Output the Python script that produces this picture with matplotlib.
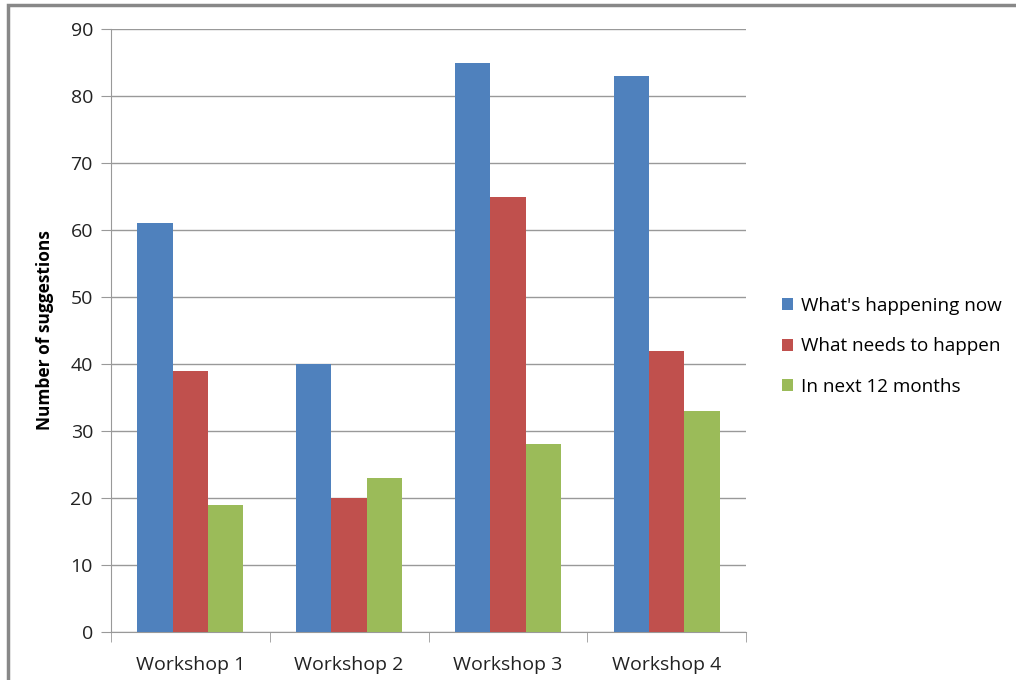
import numpy as np
import matplotlib
matplotlib.use('Agg')
import matplotlib.pyplot as plt
from matplotlib.patches import Rectangle

workshops = ['Workshop 1', 'Workshop 2', 'Workshop 3', 'Workshop 4']
series_names = ["What's happening now", 'What needs to happen', 'In next 12 months']
happening_now = [61, 40, 85, 83]
needs_to_happen = [39, 20, 65, 42]
next_12_months = [19, 23, 28, 33]
colors = ['#4F81BD', '#C0504D', '#9BBB59']

plt.rcParams['font.family'] = ['Open Sans', 'DejaVu Sans']

fig = plt.figure(figsize=(10.16, 6.8), dpi=100)
ax = fig.add_axes([111 / 1016, 1 - 632 / 680, 635 / 1016, 603 / 680])

# outer chart frame, left and top edges visible
fig.patches.append(Rectangle((8 / 1016, -0.1), 1.2, (680 - 5) / 680 + 0.1,
                             transform=fig.transFigure, fill=False,
                             edgecolor='#888888', linewidth=2.5))

x = np.arange(len(workshops))
width = 1 / 4.5
for i, (vals, name) in enumerate(zip([happening_now, needs_to_happen, next_12_months], series_names)):
    ax.bar(x + (i - 1) * width, vals, width, color=colors[i], label=name, zorder=3)

ax.set_xlim(-0.5, len(workshops) - 0.5)
ax.set_ylim(0, 90)
ax.set_yticks(range(0, 91, 10))
ax.yaxis.grid(True, color='#999999', linewidth=1)
ax.set_axisbelow(True)

ax.set_xticks(x)
ax.set_xticklabels(workshops, fontsize=14, color='#222222')
ax.set_xticks(np.arange(-0.5, len(workshops)), minor=True)
ax.tick_params(axis='x', which='major', length=0, pad=17)
ax.tick_params(axis='x', which='minor', length=7, color='#999999')
ax.tick_params(axis='y', length=7, color='#999999', labelsize=14, labelcolor='#222222', pad=6)

for side in ['top', 'right']:
    ax.spines[side].set_visible(False)
for side in ['left', 'bottom']:
    ax.spines[side].set_color('#999999')

ax.set_ylabel('Number of suggestions', fontsize=12.5, fontweight='bold', labelpad=12)

ax.legend(loc='center left', bbox_to_anchor=(1.03, 0.474), frameon=False, fontsize=13.6,
          handlelength=0.6, handleheight=0.6, handletextpad=0.4, labelspacing=1.2)

fig.savefig('out.png', dpi=100)
